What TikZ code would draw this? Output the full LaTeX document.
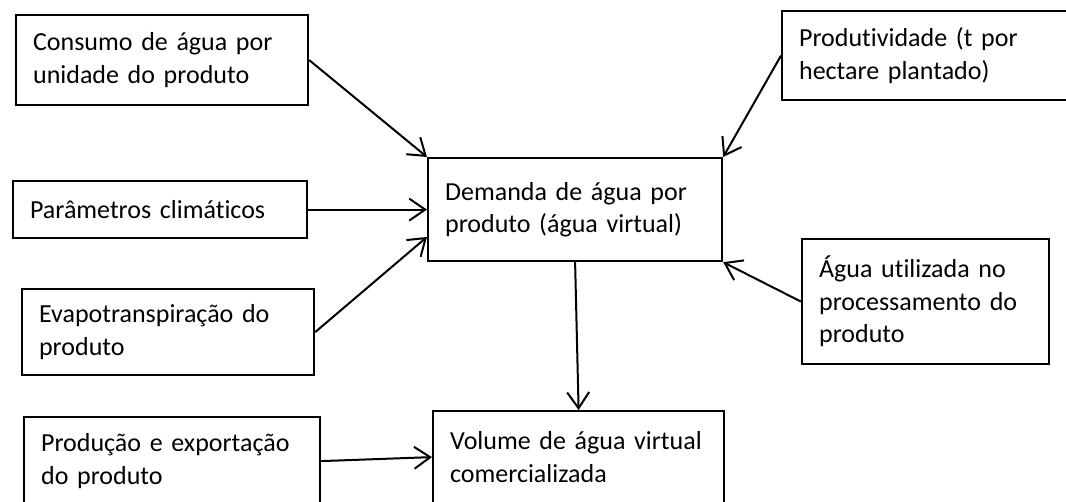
\documentclass[tikz,border=0pt]{standalone}
\usepackage{fontspec}
\setmainfont{Carlito}[Ligatures=NoCommon, WordSpace=0.6]
\usepackage{tikz}
\usetikzlibrary{arrows.meta,calc}
\hyphenpenalty=10000

\begin{document}
\begin{tikzpicture}[x=1pt,y=-1pt]
			\useasboundingbox (0,0) rectangle (1066,501);
			\clip (0,0) rectangle (1066,501);
			\begin{scope}
				[
					caixa/.style={
						draw, rectangle, anchor=north west, align=left,
						line width=2.2pt, inner xsep=17pt, inner ysep=0pt,
						font=\fontsize{26}{32.5}\selectfont
						},
				]
				\node(consumo)[caixa, text width=258pt, minimum height=90pt] at (15,14) {Consumo de água por\\unidade do produto};
				\node(clima)[caixa, text width=260pt, minimum height=57pt] at (12,180) {Parâmetros climáticos};
				\node(evapo)[caixa, text width=258pt, minimum height=86pt] at (21,288) {Evapotranspiração do\\produto};
				\node(producao)[caixa, text width=262pt, minimum height=88pt] at (23,416) {Produção e exportação\\do produto};

				\node(demanda)[caixa, text width=260pt, minimum height=103pt] at (427,157) {Demanda de água por\\produto (água virtual)};
				\node(volume)[caixa, text width=257pt, minimum height=92pt] at (432,410) {Volume de água virtual\\comercializada};

				\node(produt)[caixa, text width=266pt, minimum height=89pt] at (781,10) {Produtividade (t por\\hectare plantado)};
				\node(agua)[caixa, text width=213pt, minimum height=125pt] at (801,238) {Água utilizada no\\processamento do\\produto};

				\coordinate(demandaEvapo) at ($(demanda.north west)!0.76!(demanda.south west)$);
			\end{scope}

			\begin{scope}
				[ seta/.style = {-{Straight Barb[length=16pt,width=22pt]}},
					line width=2pt]
				\path 
				(consumo.east) edge[seta] 			(demanda.north west)
				(clima.east) edge[seta] 			(clima.east -| demanda.west)
				(evapo.east) edge[seta] 			(demandaEvapo)
				(producao.east) edge[seta] 			(volume.west)
				(produt.west) edge[seta] 			(demanda.north east)
				(agua.west) edge[seta] 				(demanda.south east)
				(demanda.south) edge[seta] 			(volume.north);
			\end{scope}
		\end{tikzpicture}
\end{document}
